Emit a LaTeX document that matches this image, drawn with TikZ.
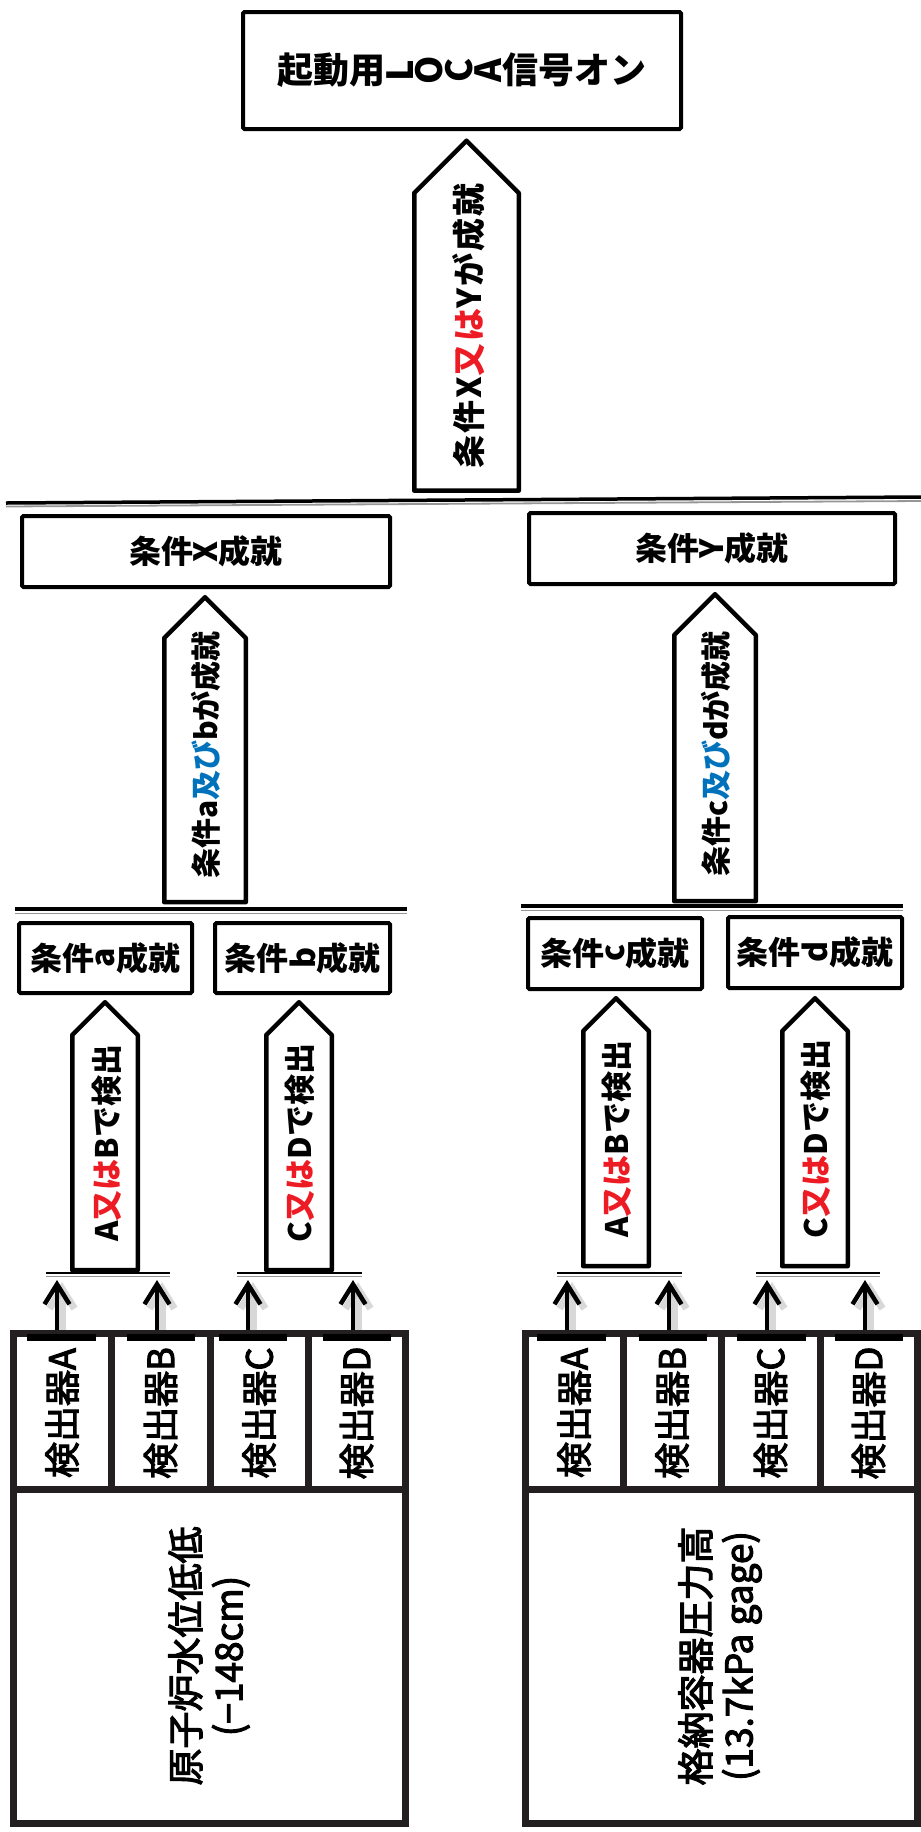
\documentclass[tikz,border=0pt]{standalone}
\usepackage{fontspec}
\setmainfont{Noto Sans CJK JP}
\newfontfamily\jpmid{Noto Sans CJK JP}[FakeBold=3]
\usetikzlibrary{arrows.meta,positioning,shapes.arrows}
\definecolor{orred}{RGB}{237,28,36}
\definecolor{andblue}{RGB}{0,114,188}
\definecolor{framegray}{RGB}{35,31,32}
\definecolor{busgray}{RGB}{150,150,150}
\newcommand\rl[2][0pt]{\hspace{1pt}\raisebox{#1}{\rotatebox[origin=c]{90}{#2}}\hspace{1pt}}
\newcommand\orw{\textcolor{orred}{又は}}
\newcommand\andw{\textcolor{andblue}{及び}}
\tikzset{
  cond/.style={draw, line width=4pt, rounded corners=1.5pt, inner sep=0pt,
               font=\fontsize{32}{36}\selectfont\bfseries},
  blkarr/.style={single arrow, draw, line width=4.5pt, line join=round, rotate=90,
                 single arrow head extend=0pt, single arrow tip angle=90, inner sep=0pt,
                 anchor=tip},
  arrtxt/.style={rotate=90, inner sep=0pt, font=\fontsize{30}{34}\selectfont\bfseries},
  det/.style={rotate=90, minimum width=148pt, minimum height=98pt, inner sep=0pt,
              font=\jpmid\fontsize{36}{38}\selectfont},
  src/.style={rotate=90, align=center, inner sep=0pt, font=\jpmid\fontsize{37}{43}\selectfont},
  bus/.style={line width=3.5pt},
  busg/.style={draw=busgray, line width=1.6pt},
  frm/.style={draw=framegray, line width=7pt},
  sig/.style={line width=4.5pt, -{Straight Barb[length=20pt,width=25pt]}},
  sigshadow/.style={sig, draw=black!30, opacity=.5, line width=7pt,
                    transform canvas={xshift=5pt,yshift=-2pt}},
}
\begin{document}
\begin{tikzpicture}[x=1pt,y=-1pt]
  \useasboundingbox (0,0) rectangle (921,1832);
  % start signal
  \node[cond, minimum width=438pt, minimum height=117pt,
        font=\fontsize{36}{40}\selectfont\bfseries] (loca) at (462,70.5)
        {起動用\rl{L}\rl{O}\rl{C}\rl{A}信号オン};
  \node[blkarr, minimum height=350pt, minimum width=104.5pt] (orTop) at (466.5,137.5) {};
  \node[arrtxt, font=\fontsize{33}{36}\selectfont\bfseries\addfontfeatures{LetterSpace=6}]
        (orTopT) at (469,326) {条件X\orw Yが成就};
  % upper bus
  \draw[line width=3.5pt] (6,503) -- (921,497);
  \draw[busg, line width=1.8pt] (6,506.5) -- (921,501);
  % conditions X / Y
  \node[cond, minimum width=368pt, minimum height=71pt] (condX) at (206,551.5) {条件\rl{X}成就};
  \node[cond, minimum width=366pt, minimum height=71pt] (condY) at (712,548.5) {条件\rl{Y}成就};
  \node[blkarr, minimum height=305pt, minimum width=81.5pt] (andL) at (205,594) {};
  \node[blkarr, minimum height=307pt, minimum width=81.5pt] (andR) at (715,591) {};
  \node[arrtxt] (andLT) at (206,755) {条件a\andw bが成就};
  \node[arrtxt] (andRT) at (716,754) {条件c\andw dが成就};
  % middle bus
  \draw[bus] (15,909) -- (407,909);   \draw[busg] (15,913.5) -- (407,913.5);
  \draw[bus] (521,906) -- (903,906);  \draw[busg] (521,910.5) -- (903,910.5);
  % conditions a-d
  \node[cond, minimum width=173pt, minimum height=70pt] (conda) at (105.5,958) {条件\rl[.1em]{a}成就};
  \node[cond, minimum width=175pt, minimum height=70pt] (condb) at (302.5,958) {条件\rl{b}成就};
  \node[cond, minimum width=174pt, minimum height=71pt] (condc) at (615,953.5) {条件\rl[.1em]{c}成就};
  \node[cond, minimum width=174pt, minimum height=71pt] (condd) at (815,952.5) {条件\rl{d}成就};
  \node[blkarr, minimum height=268pt, minimum width=65.5pt] (orLa) at (105,999) {};
  \node[blkarr, minimum height=268pt, minimum width=65.5pt] (orLb) at (299,999) {};
  \node[blkarr, minimum height=268pt, minimum width=65.5pt] (orRa) at (616,995) {};
  \node[blkarr, minimum height=268pt, minimum width=65.5pt] (orRb) at (815,995) {};
  \tikzset{arrtxt/.append style={font=\fontsize{31}{34}\selectfont\bfseries}}
  \node[arrtxt] (orLaT) at (107,1143) {A\orw Bで検出};
  \node[arrtxt] (orLbT) at (300,1143) {C\orw Dで検出};
  \node[arrtxt] (orRaT) at (617,1139) {A\orw Bで検出};
  \node[arrtxt] (orRbT) at (816,1139) {C\orw Dで検出};
  % lower buses
  \foreach \a/\b in {46/170,237/362,557/682,756/880}{
    \draw[line width=2pt] (\a,1273) -- (\b,1273);
    \draw[busg, line width=1.5pt] (\a,1276.5) -- (\b,1276.5);
  }
  % detectors
  \node[det] (dLA) at (62,1413) {検出器A};
  \node[det] (dLB) at (160.5,1413) {検出器B};
  \node[det] (dLC) at (259,1413) {検出器C};
  \node[det] (dLD) at (356.5,1413) {検出器D};
  \node[det] (dRA) at (574,1413) {検出器A};
  \node[det] (dRB) at (672,1413) {検出器B};
  \node[det] (dRC) at (770.5,1413) {検出器C};
  \node[det] (dRD) at (868.5,1413) {検出器D};
  \foreach \c/\x in {dLA/57,dLB/157,dLC/248,dLD/353,dRA/567,dRB/669,dRC/767,dRD/865}{
    \coordinate (t\c) at (\x,1280);
    \draw[sigshadow] (t\c |- \c.east) -- (t\c);
    \draw[sig] (t\c |- \c.east) -- (t\c);
  }
  % frames
  \draw[frm] (13,1333) rectangle (405,1823);
  \draw[frm] (13,1489) -- (405,1489);
  \foreach \x in {111,210,308} \draw[frm] (\x,1333) -- (\x,1489);
  \draw[frm] (525,1333) rectangle (917,1823);
  \draw[frm] (525,1489) -- (917,1489);
  \foreach \x in {623,721,820} \draw[frm] (\x,1333) -- (\x,1489);
  \foreach \a/\b in {27/96,127/195,219/287,323/391,537/606,639/707,737/806,835/903}
    \draw[line width=7pt] (\a,1337) -- (\b,1337);
  % sources
  \node[src] (srcL) at (209,1656) {原子炉水位低低\\(−148cm)};
  \node[src] (srcR) at (720,1656) {格納容器圧力高\\(13.7kPa gage)};
\end{tikzpicture}
\end{document}
